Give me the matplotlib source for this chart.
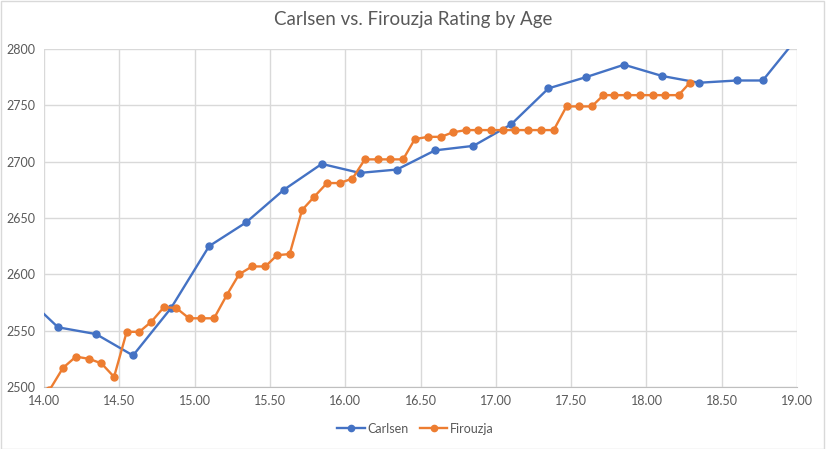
import matplotlib
matplotlib.use('Agg')
import matplotlib.pyplot as plt
from matplotlib.patches import Rectangle
from matplotlib.ticker import MultipleLocator, FormatStrFormatter

# 数据：年龄 / 等级分
carlsen_age = [13.84, 14.093, 14.345, 14.591, 14.843, 15.096, 15.341, 15.592, 15.844,
               16.096, 16.344, 16.596, 16.851, 17.101, 17.349, 17.599, 17.851, 18.104,
               18.349, 18.598, 18.772, 19.02]
carlsen_rating = [2585, 2553, 2547, 2528, 2570, 2625, 2646, 2675, 2698,
                  2690, 2693, 2710, 2714, 2733, 2765, 2775, 2786, 2776,
                  2770, 2772, 2772, 2813]

firouzja_age = [14.035, 14.126, 14.212, 14.299, 14.381, 14.465, 14.549, 14.633, 14.713,
                14.797, 14.879, 14.963, 15.045, 15.129, 15.215, 15.295, 15.381, 15.470,
                15.547, 15.631, 15.713, 15.795, 15.879, 15.963, 16.048, 16.130, 16.215,
                16.300, 16.384, 16.462, 16.550, 16.636, 16.714, 16.802, 16.884, 16.966,
                17.048, 17.130, 17.214, 17.298, 17.384, 17.469, 17.552, 17.637, 17.714,
                17.787, 17.871, 17.957, 18.040, 18.126, 18.213, 18.288]
firouzja_rating = [2497, 2517, 2527, 2525, 2521, 2509, 2549, 2549, 2558,
                   2571, 2570, 2561, 2561, 2561, 2582, 2600, 2607, 2607,
                   2617, 2618, 2657, 2669, 2681, 2681, 2685, 2702, 2702,
                   2702, 2702, 2720, 2722, 2722, 2726, 2728, 2728, 2728,
                   2728, 2728, 2728, 2728, 2728, 2749, 2749, 2749, 2759,
                   2759, 2759, 2759, 2759, 2759, 2759, 2770]

title = 'Carlsen vs. Firouzja Rating by Age'
blue = '#4472C4'
orange = '#ED7D31'
text_gray = '#595959'
grid_gray = '#D9D9D9'

plt.rcParams['font.family'] = ['Lato', 'DejaVu Sans']

fig = plt.figure(figsize=(8.26, 4.49), dpi=100)
fig.patches.append(Rectangle((0.001, 0.001), 0.997, 0.996, transform=fig.transFigure,
                             fill=False, edgecolor=grid_gray, linewidth=1))
ax = fig.add_axes([0.0533, 0.138, 0.9117, 0.753])

ax.plot(carlsen_age, carlsen_rating, color=blue, linewidth=1.7, marker='o',
        markersize=5, label='Carlsen', zorder=3)
ax.plot(firouzja_age, firouzja_rating, color=orange, linewidth=1.7, marker='o',
        markersize=5, label='Firouzja', zorder=3)

ax.set_xlim(14, 19)
ax.set_ylim(2500, 2800)
ax.xaxis.set_major_locator(MultipleLocator(0.5))
ax.yaxis.set_major_locator(MultipleLocator(50))
ax.xaxis.set_major_formatter(FormatStrFormatter('%.2f'))
ax.grid(True, color=grid_gray, linewidth=1, zorder=0)
ax.set_axisbelow(True)

for side in ['top', 'right', 'left']:
    ax.spines[side].set_visible(False)
ax.spines['bottom'].set_color('#BFBFBF')
ax.tick_params(length=0, labelsize=9, colors=text_gray, pad=6)

fig.suptitle(title, x=0.5, y=0.975, fontsize=13.5, color=text_gray)
fig.legend(loc='center', bbox_to_anchor=(0.503, 0.045), ncol=2, frameon=False,
           fontsize=9, labelcolor=text_gray, handlelength=2.2, columnspacing=0.9,
           handletextpad=0.2, markerscale=0.9)

plt.savefig('out.png', dpi=100)
plt.close()
